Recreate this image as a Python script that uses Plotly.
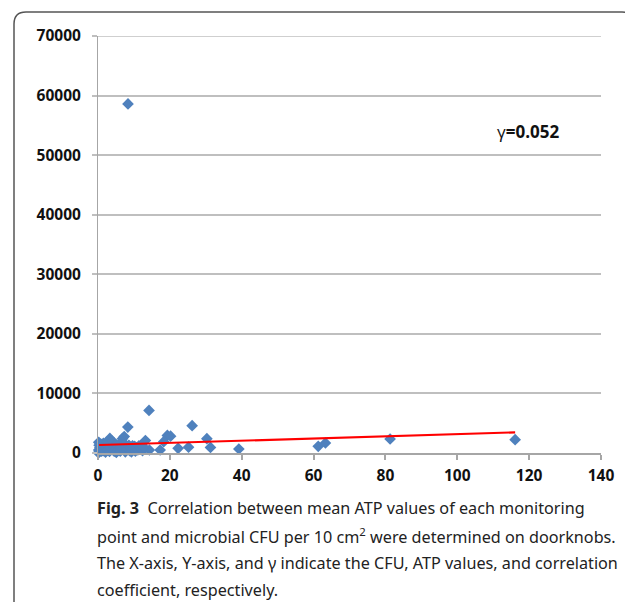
import plotly.graph_objects as go

# ---- data ----
cfu = [
    8.35, 14.2, 8.3, 26.2, 19.3, 20.2, 30.3, 31.3, 39.2, 22.3, 25.2, 17.3, 14.3, 18.3, 13.2, 12.2,
    61.3, 63.3, 81.3, 116.1,
    0.2, 0.3, 0.5, 0.2, 0.4, 0.1, 0.8, 1.0, 1.2, 1.0, 1.5, 1.7, 1.6, 2.0, 2.2, 2.1, 2.6, 2.8, 2.7,
    3.3, 3.1, 3.4, 3.2, 3.9, 4.1, 4.0, 4.4, 4.6, 4.5, 5.0, 5.2, 5.1, 5.7, 5.9, 6.0, 6.3, 6.2,
    6.8, 6.6, 7.0, 7.3, 7.5, 7.6, 7.9, 8.1, 8.6, 8.8, 9.1, 9.3, 9.6, 9.9, 10.2, 10.4, 10.8,
    11.1, 11.4, 11.8, 12.1, 12.4, 12.7,
]
atp = [
    58600, 7150, 4360, 4590, 2950, 2820, 2400, 930, 670, 780, 980, 500, 500, 1900, 2100, 780,
    1120, 1680, 2350, 2240,
    1800, 1300, 900, 500, 200, 50, 1500, 1100, 700, 300, 1600, 1000, 400, 1400, 800, 150, 1900, 1200, 500,
    2450, 1700, 900, 250, 2000, 1300, 600, 1700, 1000, 300, 1400, 800, 100, 1200, 600, 1500, 900, 300,
    2400, 1100, 700, 2750, 1500, 200, 1000, 600, 1300, 400, 900, 200, 1200, 700, 1100, 300, 900,
    500, 1200, 800, 1300, 400, 1000,
]
trend_x = [0.3, 116.1]
trend_y = [1340, 3470]

x_ticks = [0, 20, 40, 60, 80, 100, 120, 140]
y_ticks = [0, 10000, 20000, 30000, 40000, 50000, 60000, 70000]

gamma_text = "γ<b>=0.052</b>"
caption_lines = [
    "<b>Fig. 3</b>  Correlation between mean ATP values of each monitoring",
    "point and microbial CFU per 10 cm<sup>2</sup> were determined on doorknobs.",
    "The X-axis, Y-axis, and γ indicate the CFU, ATP values, and correlation",
    "coefficient, respectively.",
]

# ---- layout geometry (page has an 8px body margin) ----
OFF = 8
W, H = 633 - OFF, 602 - OFF
L, R, T, B = 98 - OFF, 32, 36 - OFF, 149
PW, PH = W - L - R, H - T - B


def px(x):
    return (x - OFF - L) / PW


def py(y):
    return (H - B - (y - OFF)) / PH


fig = go.Figure()
fig.add_trace(go.Scatter(
    x=cfu, y=atp, mode="markers",
    marker=dict(symbol="diamond", size=9, color="#4F81BD", line=dict(width=0)),
    showlegend=False, cliponaxis=False,
))
fig.add_trace(go.Scatter(
    x=trend_x, y=trend_y, mode="lines",
    line=dict(color="#FF0000", width=2.2), showlegend=False,
))

tick_font = dict(family="Open Sans", size=15.5, color="#111111", weight="bold")

fig.update_layout(
    width=W, height=H,
    margin=dict(l=L, r=R, t=T, b=B, pad=0),
    paper_bgcolor="white", plot_bgcolor="white",
    xaxis=dict(
        range=[0, 140], tickvals=x_ticks, ticktext=[str(v) for v in x_ticks],
        showgrid=False, zeroline=False, showline=True, linecolor="#A6A6A6", linewidth=1.5,
        ticks="outside", ticklen=5, tickcolor="#A6A6A6", tickwidth=1.5,
        tickfont=tick_font, ticklabelstandoff=3,
    ),
    yaxis=dict(
        range=[0, 70000], tickvals=y_ticks, ticktext=[str(v) for v in y_ticks],
        showgrid=True, gridcolor="#BFBFBF", gridwidth=1.5, zeroline=False,
        showline=True, linecolor="#A6A6A6", linewidth=1,
        ticks="outside", ticklen=5, tickcolor="#BFBFBF", tickwidth=1.5,
        tickfont=tick_font, ticklabelstandoff=8,
    ),
    font=dict(family="Open Sans"),
)

# top gridline at the range edge (plotly omits it)
fig.add_shape(type="line", xref="paper", yref="y", x0=0, x1=1, y0=y_ticks[-1], y1=y_ticks[-1],
              line=dict(color="#BFBFBF", width=1.5), layer="below")

fig.add_annotation(
    x=119.7, y=54050, xref="x", yref="y", text=gamma_text, showarrow=False,
    font=dict(family="Open Sans", size=17, color="#111111"),
    xanchor="center", yanchor="middle",
)

cap_y = [508, 536, 563, 590]
for txt, yy in zip(caption_lines, cap_y):
    fig.add_annotation(
        x=px(95), y=py(yy), xref="paper", yref="paper", text=txt, showarrow=False,
        xanchor="left", yanchor="middle",
        font=dict(family="Noto Sans", size=16.2, color="#222222"),
    )

# frame with rounded corners
path = (
    f"M {px(14)} {py(603)} L {px(14)} {py(24)} "
    f"Q {px(14)} {py(12)} {px(26)} {py(12)} "
    f"L {px(622)} {py(12)} Q {px(632)} {py(12)} {px(633)} {py(22)}"
)
fig.add_shape(type="path", path=path, xref="paper", yref="paper",
              line=dict(color="#555555", width=1.5))

fig.write_html("out.html")
